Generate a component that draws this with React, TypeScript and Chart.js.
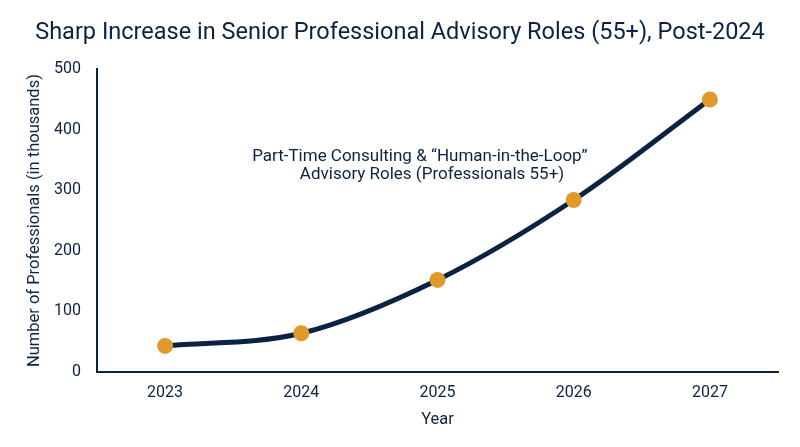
import React, { useEffect, useRef } from "react";
import { Chart, registerables } from "chart.js";

Chart.register(...registerables);

const years = ["2023", "2024", "2025", "2026", "2027"];
const professionals = [43, 64, 152, 284, 450];
const yTicks = [0, 100, 200, 300, 400, 500];
const titleText = "Sharp Increase in Senior Professional Advisory Roles (55+), Post-2024";
const annotationLines = [
  "Part-Time Consulting & \u201cHuman-in-the-Loop\u201d",
  "Advisory Roles (Professionals 55+)",
];

const NAVY = "#0c2242";
const GOLD = "#e09a2c";
const FONT = "Roboto, 'Noto Sans', sans-serif";

const annotationPlugin = {
  id: "annot",
  afterDatasetsDraw(chart: any) {
    const { ctx, chartArea } = chart;
    const w = chartArea.right - chartArea.left;
    const h = chartArea.bottom - chartArea.top;
    ctx.save();
    ctx.fillStyle = NAVY;
    ctx.font = `17px ${FONT}`;
    ctx.textAlign = "center";
    ctx.textBaseline = "middle";
    ctx.fillText(annotationLines[0], chartArea.left + w * 0.474, chartArea.top + h * 0.288);
    ctx.fillText(annotationLines[1], chartArea.left + w * 0.492, chartArea.top + h * 0.35);
    ctx.restore();
  },
};

export default function App() {
  const ref = useRef<HTMLCanvasElement | null>(null);
  useEffect(() => {
    document.body.style.margin = "0";
    const chart = new Chart(ref.current!, {
      type: "line",
      data: {
        labels: years,
        datasets: [
          {
            data: professionals,
            borderColor: NAVY,
            borderWidth: 5,
            cubicInterpolationMode: "monotone",
            pointBackgroundColor: GOLD,
            pointBorderColor: GOLD,
            pointRadius: 8,
            pointBorderWidth: 0,
          },
        ],
      },
      options: {
        animation: false,
        responsive: false,
        layout: { padding: { left: 22, right: 22, top: 0, bottom: 0 } },
        plugins: {
          legend: { display: false },
          tooltip: { enabled: false },
          title: {
            display: true,
            text: titleText,
            color: NAVY,
            font: { family: FONT, size: 23.5, weight: "normal" },
            padding: { top: 19, bottom: 22 },
          },
        },
        scales: {
          x: {
            offset: true,
            afterFit(scale: any) {
              scale.height = 75;
            },
            grid: { display: false, drawTicks: false },
            border: { color: NAVY, width: 2 },
            ticks: { color: NAVY, font: { family: FONT, size: 16 }, padding: 11 },
            title: {
              display: true,
              text: "Year",
              color: NAVY,
              font: { family: FONT, size: 16.5 },
              padding: { top: 0, bottom: 17 },
            },
          },
          y: {
            min: 0,
            max: 500,
            afterBuildTicks(scale: any) {
              scale.ticks = yTicks.map((v) => ({ value: v }));
            },
            afterFit(scale: any) {
              scale.width = 75;
            },
            grid: { display: false, drawTicks: false },
            border: { color: NAVY, width: 2 },
            ticks: { color: NAVY, font: { family: FONT, size: 16 }, padding: 16 },
            title: {
              display: true,
              text: "Number of Professionals (in thousands)",
              color: NAVY,
              font: { family: FONT, size: 16.5 },
              padding: { top: 3, bottom: 0 },
            },
          },
        },
      },
      plugins: [annotationPlugin],
    });
    return () => chart.destroy();
  }, []);
  return (
    <div style={{ width: 800, height: 447, background: "#fff" }}>
      <canvas ref={ref} width={800} height={447} style={{ display: "block" }} />
    </div>
  );
}
